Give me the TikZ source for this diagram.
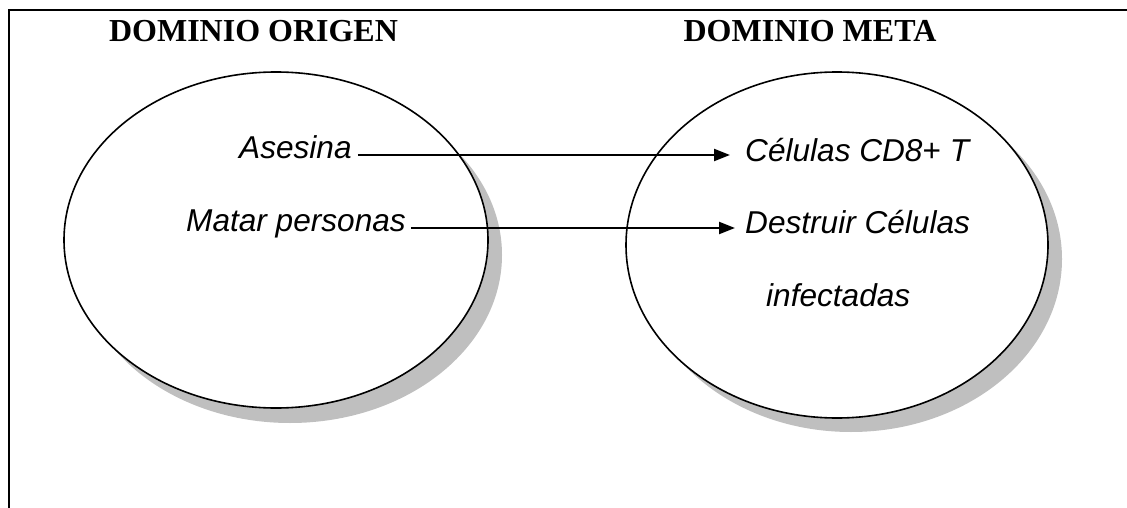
\documentclass[tikz,border=0pt]{standalone}
\usepackage{fontspec}
\setmainfont{Liberation Serif}
\newfontfamily\arialfont{Liberation Sans}
\usetikzlibrary{shapes.geometric,arrows.meta,calc}
\tikzset{
  frameline/.style={line width=2.2pt, line cap=rect},
  domellipse/.style={ellipse, draw=black, line width=1.6pt, fill=white, inner sep=0pt, minimum width=424pt, minimum height=336pt},
  shadowellipse/.style={ellipse, fill=black!25, draw=none, inner sep=0pt, minimum width=424pt, minimum height=336pt},
  titletext/.style={anchor=base, inner sep=0pt, font=\fontsize{32}{38}\selectfont\bfseries},
  termtext/.style={anchor=base west, inner sep=0pt, font=\arialfont\itshape\fontsize{31.6}{38}\selectfont},
  arr/.style={line width=2.3pt, -{Triangle[length=16pt,width=12pt]}}
}
\begin{document}
\begin{tikzpicture}[x=1pt,y=-1pt]
\useasboundingbox (0,0) rectangle (1127,508);
% frame (open at right and bottom)
\coordinate (fb) at (9,510);
\coordinate (fc) at (9,10);
\coordinate (fr) at (1130,10);
\draw[frameline] (fb) -- (fc) -- (fr);
% titles
\node[titletext] (t1) at (253.5,42) {DOMINIO ORIGEN};
\node[titletext] (t2) at (810,42) {DOMINIO META};
% shadows
\node[shadowellipse] (s1) at (290,255) {};
\node[shadowellipse, minimum width=422pt, minimum height=346pt] (s2) at (851,259) {};
% ellipses
\node[domellipse] (e1) at (276,240) {};
\node[domellipse, minimum width=422pt, minimum height=346pt] (e2) at (837,245) {};
% terms
\node[termtext] (a1) at (239,158) {Asesina};
\node[termtext] (a2) at (186,231) {Matar personas};
\node[termtext] (b1) at (745,161) {Células CD8{\upshape +} T};
\node[termtext] (b2) at (745,233) {Destruir Células};
\node[termtext] (b3) at (766,306) {infectadas};
% arrows
\draw[arr] ($(a1.base east)+(6,-3)$) -- ($(b1.base west)+(-15,-6)$);
\draw[arr] ($(a2.base east)+(5,-3)$) -- ($(b2.base west)+(-10,-5)$);
\end{tikzpicture}
\end{document}
